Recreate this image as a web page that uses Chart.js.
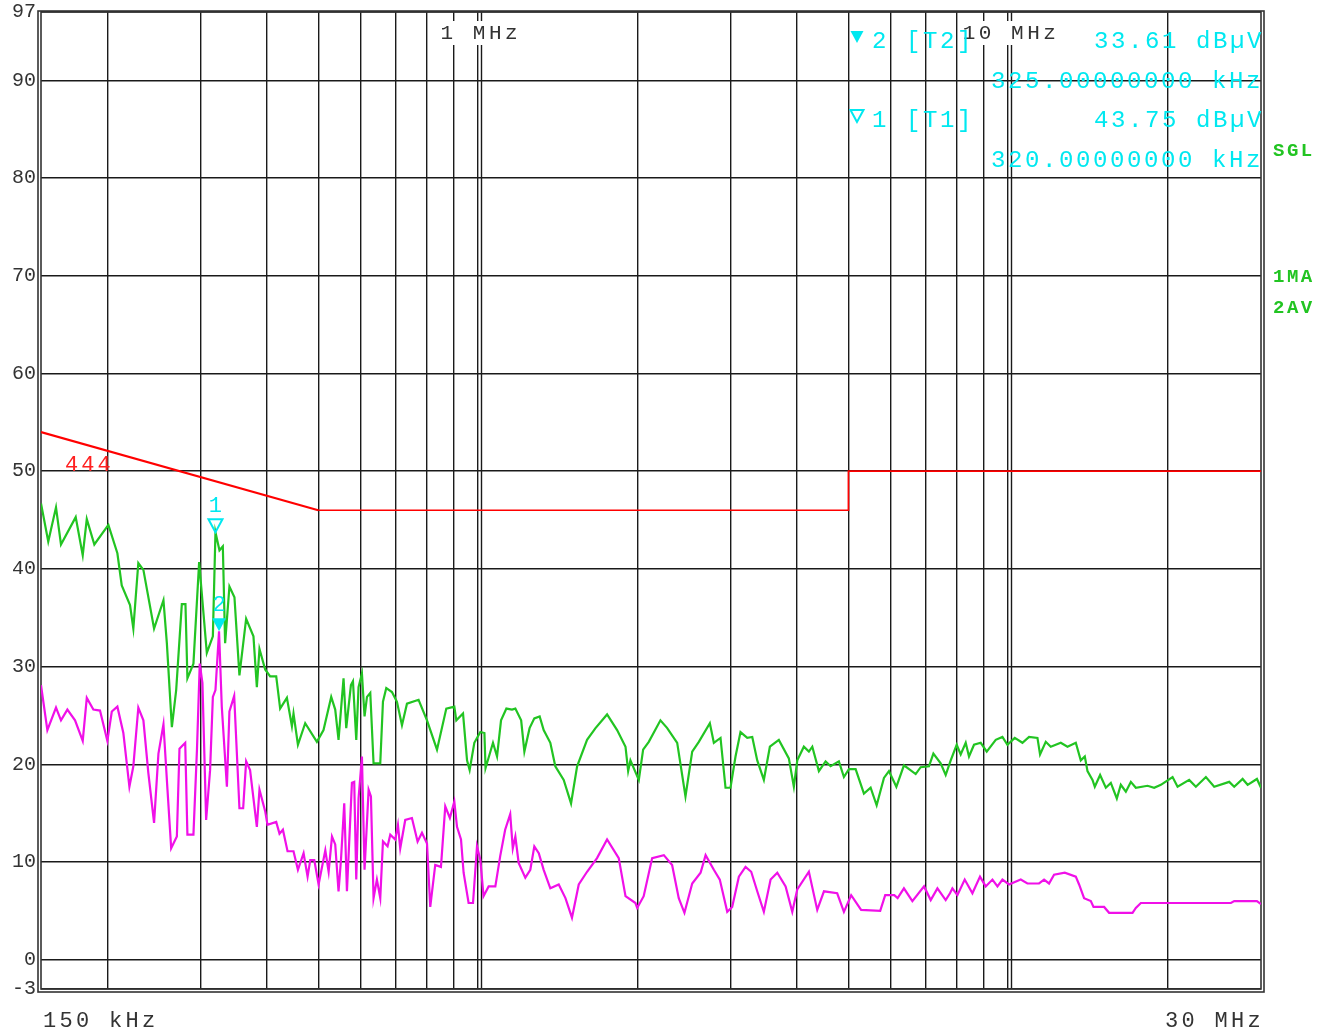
<!DOCTYPE html>
<html>
<head>
<meta charset="utf-8">
<title>Conducted emission scan</title>
<script src="https://cdn.jsdelivr.net/npm/chart.js@4.4.1/dist/chart.umd.min.js"></script>
<style>
  html, body { margin: 0; padding: 0; background: #fff; }
  #wrap { width: 1327px; height: 1034px; }
</style>
</head>
<body>
<div id="wrap"><canvas id="scan" width="1327" height="1034"></canvas></div>
<script>
// frequencies in kHz, levels in dBuV

// trace 1: max peak (1MA)
const peakFreq = [150,154.8,160.1,163.6,174.4,179.8,183,189.1,201,209,
  213,220.8,224,228.9,234,245.1,255.3,259.1,264.8,269.8,
  276.5,280.9,283.3,290.8,298.1,308.2,316.4,320,325.6,330.4,
  333.7,340,347.5,355.1,365.6,377.4,383,387.4,397.1,405.8,
  416.6,423.8,436.4,446,449.1,457.8,472.5,497.1,511.6,529,
  538.3,546.1,558.1,564.7,576.3,581.4,589.8,595.7,604.5,611.4,
  617.9,626.8,635.8,654.6,662.3,671.9,688.7,703.8,719.3,735.1,
  773.1,801.9,837.5,872,902.9,910.8,937.7,954.2,965,984.9,
  1011,1029,1034,1068,1087,1106,1132,1160,1177,1207,
  1224,1252,1278,1308,1331,1370,1400,1452,1499,1539,
  1607,1667,1753,1831,1899,1921,1940,2012,2050,2101,
  2210,2276,2377,2464,2537,2611,2739,2787,2869,2932,
  2996,3062,3129,3222,3293,3365,3463,3555,3696,3860,
  3945,4004,4120,4211,4274,4398,4528,4628,4797,4903,
  5011,5159,5348,5506,5652,5834,5962,6157,6363,6696,
  6843,7094,7231,7464,7628,7796,8002,8142,8321,8441,
  8627,8882,9116,9480,9760,9974,10296,10646,10956,11363,
  11492,11781,12039,12574,12946,13422,13716,13957,14121,14432,
  14576,14916,15291,15627,16040,16320,16680,17046,17420,18330,
  18863,19421,20433,20882,21962,22610,23615,24482,26132,26705,
  27698,28308,29475,30000];
const peakLevel = [46.7,42.8,46.3,42.5,45.3,41.4,45.1,42.5,44.5,41.6,
  38.3,36.3,33.9,40.6,39.9,33.9,36.8,32.4,23.8,27.6,
  36.4,36.4,28.8,30.3,40.7,31.4,33.1,43.75,41.9,42.3,
  32.4,38.2,37.1,29.1,34.9,33.1,27.9,31.8,29.7,29.0,
  29.0,25.7,26.8,23.9,25.2,22.0,24.2,22.3,23.5,26.9,
  25.6,22.5,28.8,23.7,28.1,28.5,22.5,27.9,29.3,24.9,
  26.9,27.3,20.1,20.1,26.4,27.8,27.4,26.4,24.0,26.2,
  26.6,24.5,21.5,25.7,25.9,24.5,25.2,20.4,19.4,22.2,
  23.3,23.2,19.6,22.2,20.8,24.5,25.7,25.6,25.7,24.5,
  21.3,23.7,24.7,24.9,23.5,22.2,19.8,18.4,16.0,19.8,
  22.5,23.7,25.1,23.5,21.8,19.3,20.4,18.4,21.5,22.3,
  24.5,23.7,22.2,16.7,21.3,22.3,24.2,22.2,22.7,17.6,
  17.6,20.8,23.3,22.7,22.8,20.4,18.4,21.8,22.5,20.6,
  17.7,20.4,21.8,21.3,21.8,19.3,20.3,19.8,20.3,18.7,
  19.5,19.5,17.0,17.6,15.8,18.6,19.3,17.7,19.9,19.0,
  19.7,19.8,21.1,20.1,18.9,20.4,22.0,21.0,22.2,20.8,
  22.0,22.2,21.3,22.5,22.8,22.0,22.7,22.2,22.8,22.7,
  21.0,22.3,21.8,22.2,21.8,22.2,20.4,20.8,19.3,18.4,
  17.7,18.9,17.6,18.1,16.5,17.9,17.2,18.2,17.6,17.8,
  17.6,17.9,18.7,17.7,18.4,17.7,18.7,17.7,18.2,17.7,
  18.5,17.9,18.5,17.6];

// trace 2: average (2AV)
const avgFreq = [150,154.2,160.1,163.6,168.2,173.9,179.8,183,188.3,193.8,
  200.1,204,209,214.5,220.2,224,228.9,234,239.1,245.1,
  249.8,255.3,259.8,264,270.6,273.7,280.6,283.3,290.8,295.3,
  298.9,302.4,307.3,312.6,316.4,320,325,328.9,336.3,340,
  347.1,355.1,360.9,365.6,371.9,383,387.4,397.1,401.1,416.6,
  422.6,428.9,437.6,449.1,457.8,469.2,477.4,483,491.5,500.8,
  515.6,523.1,530.8,538.3,546.1,551.9,559.8,566.4,578.8,584.6,
  589.8,595.7,604.5,611.4,622.3,628.6,635.8,645.1,654.6,662.3,
  675.7,683.7,698.5,706.8,713.9,729.6,751.1,769.8,784.6,801.9,
  813.3,831.1,852,868.1,885.7,902.9,913.5,929.5,940.1,960.7,
  979.3,996.4,1011,1025,1048,1079,1102,1126,1151,1164,
  1177,1194,1229,1256,1278,1303,1331,1370,1421,1463,
  1505,1550,1607,1678,1753,1844,1899,1983,1998,2055,
  2132,2243,2325,2393,2453,2537,2631,2689,2787,2860,
  2954,3018,3107,3198,3278,3365,3463,3566,3671,3806,
  3918,4004,4211,4367,4496,4762,4903,5060,5283,5740,
  5866,6101,6191,6363,6601,6943,7148,7359,7628,7772,
  7853,8026,8285,8567,8854,9076,9345,9551,9760,10044,
  10567,10879,11442,11694,11950,12213,12795,13422,13615,13914,
  14327,14495,15178,15511,17172,17420,17803,26325,26705,29475,
  30000];
const avgLevel = [28.1,23.5,25.8,24.5,25.6,24.5,22.4,26.8,25.6,25.5,
  22.4,25.4,25.9,23.2,17.7,19.8,25.8,24.5,19.1,14.0,
  21.1,24.1,17.4,11.4,12.6,21.6,22.2,12.8,12.8,21.5,
  30.3,28.3,14.3,19.4,26.9,27.6,33.61,25.9,17.7,25.4,
  27.0,15.5,15.5,20.3,19.4,13.6,17.4,15.2,13.8,14.1,
  12.9,13.3,11.1,11.1,9.2,10.9,8.5,10.2,10.2,7.7,
  11.2,9.0,12.6,11.8,7.0,10.2,16.0,7.0,18.1,18.2,
  8.2,16.5,20.8,9.2,17.4,16.7,6.3,8.2,6.3,12.1,
  11.6,12.8,12.3,13.8,11.4,14.3,14.5,12.1,13.0,11.9,
  5.4,9.7,9.5,15.7,14.5,16.2,13.6,12.3,8.9,5.8,
  5.8,11.6,10.2,6.5,7.5,7.5,10.6,13.3,14.9,11.4,
  12.6,9.9,8.4,9.2,11.6,10.9,9.2,7.3,7.7,6.3,
  4.3,7.7,9.0,10.4,12.3,10.4,6.5,5.8,5.3,6.5,
  10.4,10.7,9.7,6.3,4.8,7.8,8.9,10.7,9.2,8.2,
  4.9,5.4,8.5,9.5,9.0,7.0,4.9,8.2,8.9,7.5,
  4.9,7.2,9.0,5.1,7.0,6.8,4.9,6.6,5.1,5.0,
  6.6,6.6,6.3,7.3,6.0,7.5,6.1,7.3,6.1,6.8,
  7.3,6.6,8.2,6.8,8.5,7.5,8.2,7.5,8.2,7.7,
  8.2,7.8,7.8,8.2,7.8,8.7,8.9,8.5,7.7,6.3,
  6.0,5.4,5.4,4.8,4.8,5.3,5.8,5.8,6.0,6.0,
  5.7];

// limit line "444"
const limitSlopeFreq = [150, 500];
const limitSlopeLevel = [54, 46];
const limitFlatFreq = [500, 5000, 5000, 30000];
const limitFlatLevel = [46, 46, 50, 50];

// markers
const markerNum = [2, 1];
const markerTrace = ['T2', 'T1'];
const markerFreq = [325, 320];
const markerLevel = [33.61, 43.75];

// axes
const yTicks = [-3, 0, 10, 20, 30, 40, 50, 60, 70, 80, 90, 97];
const xGrid = [200, 300, 400, 500, 600, 700, 800, 900, 1000,
  2000, 3000, 4000, 5000, 6000, 7000, 8000, 9000, 10000, 20000];
const decadeFreq = [1000, 10000];
const decadeLabel = ['1 MHz', '10 MHz'];

const pts = (xs, ys) => xs.map((f, i) => ({ x: f, y: ys[i] }));

const MONO = '"Liberation Mono", "DejaVu Sans Mono", monospace';
const CYAN = '#00e8f0';
const GREEN = '#22c422';

function put(ctx, s, px, py, font, color, ls, align) {
  ctx.font = font;
  ctx.fillStyle = color;
  ctx.letterSpacing = ls || '0px';
  ctx.textAlign = 'left';
  ctx.textBaseline = 'middle';
  const w = ctx.measureText(s).width;
  let x0 = px;
  if (align === 'right') x0 = px - w;
  if (align === 'center') x0 = px - w / 2;
  ctx.fillText(s, x0, py);
  return { x0, w };
}

function tri(ctx, cx, tipY, w, h, filled) {
  ctx.beginPath();
  ctx.moveTo(cx, tipY);
  ctx.lineTo(cx - w / 2, tipY - h);
  ctx.lineTo(cx + w / 2, tipY - h);
  ctx.closePath();
  if (filled) { ctx.fillStyle = CYAN; ctx.fill(); }
  else { ctx.strokeStyle = CYAN; ctx.lineWidth = 2; ctx.stroke(); }
}

const decor = {
  id: 'decor',
  beforeDatasetsDraw(chart) {
    const { ctx, chartArea: a, scales: { x } } = chart;
    ctx.save();
    // second line next to each decade line
    ctx.strokeStyle = '#1a1a1a';
    ctx.lineWidth = 1.4;
    decadeFreq.forEach(f => {
      const px = Math.round(x.getPixelForValue(f)) + 3.5;
      ctx.beginPath(); ctx.moveTo(px, a.top); ctx.lineTo(px, a.bottom); ctx.stroke();
    });
    // double frame
    ctx.strokeStyle = '#333';
    ctx.lineWidth = 1.6;
    ctx.strokeRect(a.left, a.top, a.right - a.left, a.bottom - a.top);
    ctx.strokeRect(a.left - 3, a.top - 1, a.right - a.left + 6, a.bottom - a.top + 4);
    // decade labels on white
    decadeFreq.forEach((f, i) => {
      const px = x.getPixelForValue(f) + 3;
      ctx.font = '21px ' + MONO;
      ctx.letterSpacing = '3.5px';
      const w = ctx.measureText(decadeLabel[i]).width;
      ctx.fillStyle = '#fff';
      ctx.fillRect(px - w / 2 - 2, 21, w + 2, 24);
      put(ctx, decadeLabel[i], px, 33, '21px ' + MONO, '#333', '3.5px', 'center');
    });
    ctx.restore();
  },
  afterDatasetsDraw(chart) {
    const { ctx, scales: { x, y } } = chart;
    ctx.save();
    // markers on the traces
    markerNum.forEach((n, i) => {
      const px = x.getPixelForValue(markerFreq[i]);
      const py = y.getPixelForValue(markerLevel[i]);
      tri(ctx, px, py, 14, 13, n === 2);
      put(ctx, String(n), px, py - 26, '22px ' + MONO, CYAN, '0px', 'center');
    });
    // marker readout
    markerNum.forEach((n, i) => {
      const top = 42 + i * 79;
      tri(ctx, 857, top + 1, 13, 12, n === 2);
      put(ctx, n + ' [' + markerTrace[i] + ']', 872, top, '24px ' + MONO, CYAN, '2.6px');
      put(ctx, markerLevel[i].toFixed(2) + ' dB\u00b5V', 1264, top, '24px ' + MONO, CYAN, '2.6px', 'right');
      put(ctx, markerFreq[i].toFixed(8) + ' kHz', 1263, top + 40, '24px ' + MONO, CYAN, '2.6px', 'right');
    });
    // side labels
    put(ctx, 'SGL', 1273, 151, 'bold 19px ' + MONO, GREEN, '2.5px');
    put(ctx, '1MA', 1273, 277, 'bold 19px ' + MONO, GREEN, '2.5px');
    put(ctx, '2AV', 1273, 308, 'bold 19px ' + MONO, GREEN, '2.5px');
    // limit line name
    put(ctx, '444', 65, 465, '22px ' + MONO, '#ff2020', '3px');
    // span
    put(ctx, '150 kHz', 43, 1021, '22px ' + MONO, '#333', '3.3px');
    put(ctx, '30 MHz', 1264, 1021, '22px ' + MONO, '#333', '3.3px', 'right');
    ctx.restore();
  }
};

new Chart(document.getElementById('scan'), {
  type: 'line',
  data: {
    datasets: [
      { label: '1MA', data: pts(peakFreq, peakLevel), borderColor: GREEN, borderWidth: 2.2 },
      { label: '2AV', data: pts(avgFreq, avgLevel), borderColor: '#f010e8', borderWidth: 2.2 },
      { label: '444', data: pts(limitSlopeFreq, limitSlopeLevel), borderColor: '#ff0000', borderWidth: 2.2 },
      { label: '444 flat', data: pts(limitFlatFreq, limitFlatLevel), borderColor: '#ff0000', borderWidth: 1.7 }
    ]
  },
  options: {
    responsive: false,
    animation: false,
    devicePixelRatio: 1,
    layout: { padding: { left: 0, top: 12, right: 66, bottom: 45 } },
    elements: {
      point: { radius: 0 },
      line: { tension: 0, fill: false }
    },
    plugins: {
      legend: { display: false },
      tooltip: { enabled: false }
    },
    scales: {
      x: {
        type: 'logarithmic',
        min: 150,
        max: 30000,
        afterBuildTicks: s => { s.ticks = xGrid.map(v => ({ value: v })); },
        afterFit: s => { s.height = 0; s.paddingLeft = 0; s.paddingRight = 0; },
        ticks: { display: false },
        grid: { color: '#1a1a1a', lineWidth: 1.4, drawTicks: false },
        border: { display: false }
      },
      y: {
        min: -3,
        max: 97,
        afterBuildTicks: s => { s.ticks = yTicks.map(v => ({ value: v })); },
        afterFit: s => { s.width = 41; s.paddingTop = 0; s.paddingBottom = 0; },
        ticks: {
          padding: 5,
          color: '#333',
          font: { family: MONO, size: 20 },
          callback: v => v
        },
        grid: { color: '#1a1a1a', lineWidth: 1.4, drawTicks: false },
        border: { display: false }
      }
    }
  },
  plugins: [decor]
});
</script>
</body>
</html>
